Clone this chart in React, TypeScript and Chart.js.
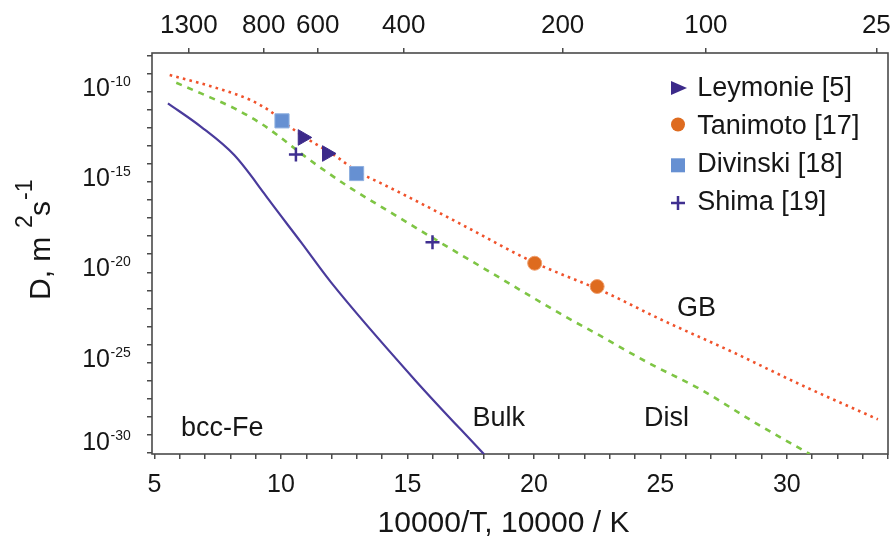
import React, { useEffect, useRef } from 'react';
import { Chart, registerables } from 'chart.js';

Chart.register(...registerables);

const FONT = "'Liberation Sans', Arial, Helvetica, sans-serif";
const TEXT = '#161616';
const AXIS = '#4a4a4a';

// x = 10000/T (1/K), values = log10(D / m^2 s^-1)
const gbX = [5.6, 7.5, 8.8, 9.6, 10.0, 10.9, 12.2, 13.0, 14.0, 15.0, 17.0, 20.0, 22.8, 25.0, 27.9, 30.5, 33.6];
const gbLogD = [-9.07, -9.81, -10.46, -11.1, -11.57, -12.48, -13.6, -14.4, -15.1, -15.8, -17.25, -19.45, -21.1, -22.6, -24.45, -26.2, -28.15];

const dislX = [5.86, 6.84, 8.16, 9.21, 9.87, 10.92, 11.71, 12.77, 14.0, 16.0, 18.4, 21.3, 22.6, 24.5, 26.6, 28.7, 30.9];
const dislLogD = [-9.5, -10.09, -10.92, -11.76, -12.41, -13.55, -14.35, -15.35, -16.4, -18.1, -20.1, -22.5, -23.5, -25.0, -26.5, -28.3, -30.07];

const bulkX = [5.53, 6.84, 8.16, 9.34, 9.5, 10.79, 11.98, 15.33, 18.03];
const bulkLogD = [-10.64, -11.94, -13.52, -15.64, -15.95, -18.33, -20.56, -26.02, -30.09];

const leymonieX = [10.86, 11.82];
const leymonieLogD = [-12.53, -13.42];
const tanimotoX = [20.03, 22.5];
const tanimotoLogD = [-19.5, -20.79];
const divinskiX = [10.04, 12.99];
const divinskiLogD = [-11.61, -14.53];
const shimaX = [10.59, 15.99];
const shimaLogD = [-13.48, -18.33];

const bottomTickLabels = [5, 10, 15, 20, 25, 30];
const topTempsC = [1300, 800, 600, 400, 200, 100, 25];
const yLabelExponents = [-10, -15, -20, -25, -30];

const legendItems = ['Leymonie [5]', 'Tanimoto [17]', 'Divinski [18]', 'Shima [19]'];
const annotationTexts = ['bcc-Fe', 'Bulk', 'Disl', 'GB'];
const annotationX = [6.05, 17.57, 24.35, 25.66];
const annotationLogD = [-29.07, -28.52, -28.52, -22.41];

const X_MIN = 4.9;
const X_MAX = 34.0;
const Y_MIN_EXP = -30.07;
const Y_MAX_EXP = -7.85;

const C_GB = '#f0522b';
const C_DISL = '#7ec544';
const C_BULK = '#4a3b9c';
const C_LEY = '#3c2a8a';
const C_TAN = '#de6b1f';
const C_DIV = '#6690d2';
const C_SHI = '#3f2f90';

const pts = (xs: number[], ls: number[]) => xs.map((x, i) => ({ x, y: Math.pow(10, ls[i]) }));

function drawMarker(ctx: CanvasRenderingContext2D, kind: string, x: number, y: number) {
  ctx.save();
  if (kind === 'tri') {
    ctx.fillStyle = C_LEY;
    ctx.beginPath();
    ctx.moveTo(x + 9, y);
    ctx.lineTo(x - 7, y - 7);
    ctx.lineTo(x - 7, y + 7);
    ctx.closePath();
    ctx.fill();
  } else if (kind === 'circle') {
    ctx.fillStyle = C_TAN;
    ctx.beginPath();
    ctx.arc(x, y, 7, 0, Math.PI * 2);
    ctx.fill();
  } else if (kind === 'rect') {
    ctx.fillStyle = C_DIV;
    ctx.fillRect(x - 7, y - 7, 14, 14);
  } else {
    ctx.strokeStyle = C_SHI;
    ctx.lineWidth = 2.5;
    ctx.beginPath();
    ctx.moveTo(x - 7, y);
    ctx.lineTo(x + 7, y);
    ctx.moveTo(x, y - 7);
    ctx.lineTo(x, y + 7);
    ctx.stroke();
  }
  ctx.restore();
}

const decorPlugin = {
  id: 'decor',
  beforeDatasetsDraw(chart: any) {
    const { ctx, chartArea } = chart;
    ctx.save();
    ctx.strokeStyle = AXIS;
    ctx.lineWidth = 1.6;
    ctx.strokeRect(chartArea.left, chartArea.top, chartArea.right - chartArea.left, chartArea.bottom - chartArea.top);
    ctx.restore();
  },
  afterDraw(chart: any) {
    const { ctx, chartArea, scales } = chart;
    const xs = scales.x;
    const xt = scales.xTop;
    const ys = scales.y;
    ctx.save();
    ctx.fillStyle = TEXT;
    ctx.textBaseline = 'alphabetic';

    // bottom tick labels
    ctx.font = `25px ${FONT}`;
    ctx.textAlign = 'center';
    bottomTickLabels.forEach((v) => ctx.fillText(String(v), xs.getPixelForValue(v), chartArea.bottom + 37.7));

    // top tick labels (temperature, deg C)
    ctx.font = `26px ${FONT}`;
    topTempsC.forEach((t) => ctx.fillText(String(t), xt.getPixelForValue(10000 / (t + 273.15)), chartArea.top - 19.7));

    // y tick labels 10^n
    yLabelExponents.forEach((e) => {
      const py = ys.getPixelForValue(Math.pow(10, e));
      const base = e === -30 ? py - 2.7 : py + 4.2;
      ctx.font = `25px ${FONT}`;
      ctx.textAlign = 'right';
      ctx.fillText('10', chartArea.left - 42, base);
      ctx.font = `14px ${FONT}`;
      ctx.textAlign = 'left';
      ctx.fillText(String(e), chartArea.left - 41.5, base - 10);
    });

    // x title
    ctx.font = `30px ${FONT}`;
    ctx.textAlign = 'center';
    ctx.fillText('10000/T, 10000 / K', chartArea.left + 351.5, chartArea.bottom + 78);

    // y title
    ctx.save();
    ctx.translate(chartArea.left - 102, chartArea.top + 247);
    ctx.rotate(-Math.PI / 2);
    ctx.textAlign = 'left';
    ctx.font = `30px ${FONT}`;
    ctx.fillText('D, m', 0, 0);
    ctx.font = `23px ${FONT}`;
    ctx.fillText('2', 72, -18);
    ctx.font = `30px ${FONT}`;
    ctx.fillText('s', 84, 0);
    ctx.font = `23px ${FONT}`;
    ctx.fillText('-1', 100, -18);
    ctx.restore();

    // annotations
    ctx.font = `27px ${FONT}`;
    ctx.textAlign = 'left';
    annotationTexts.forEach((t, i) => {
      ctx.fillText(t, xs.getPixelForValue(annotationX[i]), ys.getPixelForValue(Math.pow(10, annotationLogD[i])));
    });

    // legend
    const kinds = ['tri', 'circle', 'rect', 'plus'];
    const markerDy = [-8, -9.5, -6.7, -7];
    const lx = chartArea.right - 210;
    legendItems.forEach((t, i) => {
      const base = chartArea.top + 43 + i * 38;
      drawMarker(ctx, kinds[i], lx, base + markerDy[i]);
      ctx.fillStyle = TEXT;
      ctx.font = `27px ${FONT}`;
      ctx.textAlign = 'left';
      ctx.fillText(t, lx + 19.3, base);
    });
    ctx.restore();
  },
};

export default function App() {
  const ref = useRef<HTMLCanvasElement>(null);
  useEffect(() => {
    if (!ref.current) return;
    const unitTicks: { value: number }[] = [];
    for (let v = 5; v <= 34; v++) unitTicks.push({ value: v });
    const decadeTicks: { value: number }[] = [];
    for (let e = -30; e <= -8; e++) decadeTicks.push({ value: Math.pow(10, e) });

    const gridOpts = { drawOnChartArea: false, drawTicks: true, tickLength: 5, color: AXIS, lineWidth: 1.5 };

    const chart = new Chart(ref.current, {
      type: 'scatter',
      data: {
        datasets: [
          {
            label: 'GB', data: pts(gbX, gbLogD), showLine: true, borderColor: C_GB, borderWidth: 2.6, order: 10,
            borderDash: [2.6, 4.2], pointRadius: 0, cubicInterpolationMode: 'monotone', xAxisID: 'x', yAxisID: 'y',
          },
          {
            label: 'Disl', data: pts(dislX, dislLogD), showLine: true, borderColor: C_DISL, borderWidth: 2.6, order: 11,
            borderDash: [6, 6], pointRadius: 0, cubicInterpolationMode: 'monotone', xAxisID: 'x', yAxisID: 'y',
          },
          {
            label: 'Bulk', data: pts(bulkX, bulkLogD), showLine: true, borderColor: C_BULK, borderWidth: 2.2, order: 12,
            pointRadius: 0, cubicInterpolationMode: 'monotone', xAxisID: 'x', yAxisID: 'y',
          },
          {
            label: 'Leymonie [5]', data: pts(leymonieX, leymonieLogD), pointStyle: 'triangle', pointRotation: 90, order: 1,
            pointRadius: 9, backgroundColor: C_LEY, borderColor: C_LEY, borderWidth: 1, xAxisID: 'x', yAxisID: 'y',
          },
          {
            label: 'Tanimoto [17]', data: pts(tanimotoX, tanimotoLogD), pointStyle: 'circle', order: 1,
            pointRadius: 7, backgroundColor: C_TAN, borderColor: '#f0a070', borderWidth: 1, xAxisID: 'x', yAxisID: 'y',
          },
          {
            label: 'Divinski [18]', data: pts(divinskiX, divinskiLogD), pointStyle: 'rect', order: 1,
            pointRadius: 10, backgroundColor: C_DIV, borderColor: '#8fb0e0', borderWidth: 1, xAxisID: 'x', yAxisID: 'y',
          },
          {
            label: 'Shima [19]', data: pts(shimaX, shimaLogD), pointStyle: 'cross', order: 1,
            pointRadius: 7, backgroundColor: C_SHI, borderColor: C_SHI, borderWidth: 2.5, xAxisID: 'x', yAxisID: 'y',
          },
        ],
      },
      options: {
        responsive: false,
        animation: false,
        devicePixelRatio: 1,
        layout: { autoPadding: false, padding: { left: 0, right: 5, top: 0, bottom: 0 } },
        plugins: { legend: { display: false }, tooltip: { enabled: false } },
        scales: {
          x: {
            type: 'linear', position: 'bottom', min: X_MIN, max: X_MAX,
            afterBuildTicks: (s: any) => { s.ticks = unitTicks.map((t) => ({ ...t })); },
            afterFit: (s: any) => { s.height = 94; },
            ticks: { display: false },
            grid: gridOpts,
            border: { display: false },
          },
          xTop: {
            type: 'linear', position: 'top', min: X_MIN, max: X_MAX,
            afterBuildTicks: (s: any) => { s.ticks = topTempsC.map((t) => ({ value: 10000 / (t + 273.15) })); },
            afterFit: (s: any) => { s.height = 53; },
            ticks: { display: false },
            grid: gridOpts,
            border: { display: false },
          },
          y: {
            type: 'logarithmic', position: 'left', min: Math.pow(10, Y_MIN_EXP), max: Math.pow(10, Y_MAX_EXP),
            afterBuildTicks: (s: any) => { s.ticks = decadeTicks.map((t) => ({ ...t })); },
            afterFit: (s: any) => { s.width = 152; },
            ticks: { display: false },
            grid: gridOpts,
            border: { display: false },
          },
        },
      } as any,
      plugins: [decorPlugin],
    });
    return () => chart.destroy();
  }, []);

  return (
    <div style={{ position: 'absolute', left: 0, top: 0, width: 893, height: 548, background: '#fff' }}>
      <canvas ref={ref} width={893} height={548} style={{ display: 'block' }} />
    </div>
  );
}
